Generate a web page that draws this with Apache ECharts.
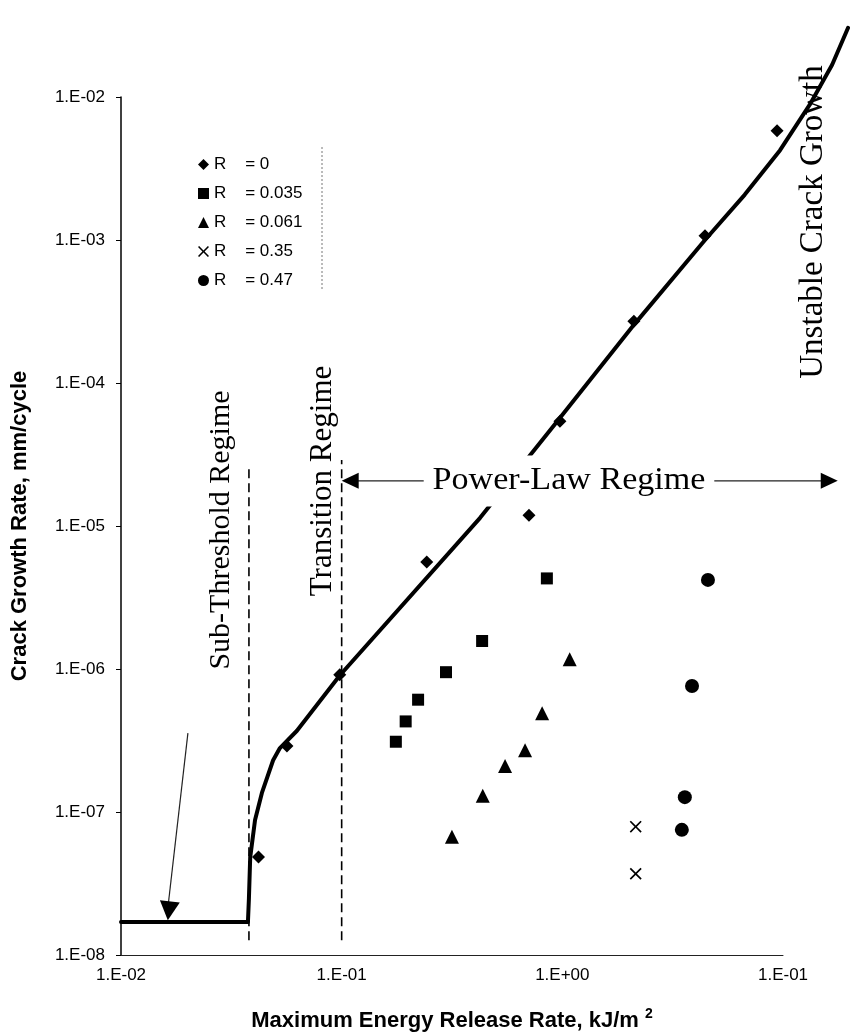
<!DOCTYPE html>
<html>
<head>
<meta charset="utf-8">
<script src="https://cdn.jsdelivr.net/npm/echarts@6/dist/echarts.min.js"></script>
<style>
  html, body { margin: 0; padding: 0; background: #fff; }
  #chart { width: 850px; height: 1036px; }
</style>
</head>
<body>
<div id="chart"></div>
<script>
// tick labels, as printed (the last one is a typo in the original figure)
const xTickLabels = ['1.E-02', '1.E-01', '1.E+00', '1.E-01'];
const yTickLabels = ['1.E-08', '1.E-07', '1.E-06', '1.E-05', '1.E-04', '1.E-03', '1.E-02'];

// fitted curve (threshold, transition, power-law, unstable growth)
const fitX = [0.01, 0.0376, 0.038, 0.0385, 0.0405, 0.0435, 0.0489, 0.0525, 0.0627, 0.098, 0.424, 0.935, 2.11, 4.43, 6.7, 9.7, 13.2, 16.7, 19.7];
const fitY = [1.7e-8, 1.7e-8, 2.5e-8, 4.8e-8, 8.8e-8, 1.36e-7, 2.3e-7, 2.8e-7, 3.7e-7, 9.0e-7, 1.14e-5, 5.25e-5, 2.55e-4, 1.0e-3, 2.07e-3, 4.25e-3, 8.8e-3, 1.68e-2, 3.04e-2];

// measured points, one pair of arrays per R ratio
const rValues = ['0', '0.035', '0.061', '0.35', '0.47'];
const r0X = [0.042, 0.0565, 0.098, 0.243, 0.706, 0.975, 2.11, 4.43, 9.4];
const r0Y = [4.84e-8, 2.9e-7, 9.1e-7, 5.6e-6, 1.19e-5, 5.4e-5, 2.7e-4, 1.07e-3, 5.8e-3];
const r035X = [0.176, 0.195, 0.222, 0.297, 0.433, 0.851];
const r035Y = [3.1e-7, 4.3e-7, 6.1e-7, 9.5e-7, 1.57e-6, 4.3e-6];
const r061X = [0.316, 0.436, 0.55, 0.678, 0.81, 1.08];
const r061Y = [6.7e-8, 1.3e-7, 2.1e-7, 2.7e-7, 4.9e-7, 1.17e-6];
const r35X = [2.15, 2.15];
const r35Y = [7.9e-8, 3.7e-8];
const r47X = [4.57, 3.87, 3.59, 3.48];
const r47Y = [4.2e-6, 7.6e-7, 1.27e-7, 7.5e-8];

const zip = (xs, ys) => xs.map((x, i) => [x, ys[i]]);
const crossPath = 'path://M0,1L1,0L5,4L9,0L10,1L6,5L10,9L9,10L5,6L1,10L0,9L4,5Z';

// plot box; the curve runs past it, so it gets a second grid with the same scale
const W = 850, H = 1036;
const plot = { left: 121, right: 67, top: 97, bottom: 81 };
const xDec = (W - plot.left - plot.right) / 3;
const yDec = (H - plot.top - plot.bottom) / 6;
const xMaxWide = Math.pow(10, (W - plot.left) / xDec - 2);
const yMaxWide = Math.pow(10, (H - plot.bottom) / yDec - 8);

const chart = echarts.init(document.getElementById('chart'));

const pointSeries = [
  { x: r0X, y: r0Y, symbol: 'diamond', size: 13 },
  { x: r035X, y: r035Y, symbol: 'rect', size: 12 },
  { x: r061X, y: r061Y, symbol: 'triangle', size: 14 },
  { x: r35X, y: r35Y, symbol: crossPath, size: 12 },
  { x: r47X, y: r47Y, symbol: 'circle', size: 14 }
].map((s, i) => ({
  name: 'R    = ' + rValues[i],
  type: 'scatter',
  data: zip(s.x, s.y),
  symbol: s.symbol,
  symbolSize: s.size,
  itemStyle: { color: '#000', opacity: 1 },
  z: 6
}));

const sansFont = '"Liberation Sans", Arial, sans-serif';
const serifFont = '"Liberation Serif", "Times New Roman", serif';

chart.setOption({
  backgroundColor: '#fff',
  animation: false,
  grid: [
    Object.assign({ outerBoundsMode: 'none', containLabel: false }, plot),
    { left: plot.left, right: 0, top: 0, bottom: plot.bottom, outerBoundsMode: 'none', containLabel: false }
  ],
  legend: {
    orient: 'vertical',
    left: 193,
    top: 151,
    itemWidth: 11,
    itemHeight: 11,
    itemGap: 12,
    textStyle: { fontFamily: sansFont, fontSize: 17, color: '#000' },
    data: pointSeries.map(s => s.name)
  },
  xAxis: [{
    type: 'log',
    logBase: 10,
    min: 0.01,
    max: 10,
    gridIndex: 0,
    name: 'Maximum Energy Release Rate, kJ/m {sup|2}',
    nameLocation: 'middle',
    nameGap: 52,
    nameTextStyle: {
      fontFamily: sansFont, fontSize: 22, fontWeight: 'bold', color: '#000',
      rich: { sup: { fontFamily: sansFont, fontSize: 14, fontWeight: 'bold', color: '#000', verticalAlign: 'top', padding: [0, 0, 14, 0] } }
    },
    axisLine: { lineStyle: { color: '#222', width: 1 } },
    axisTick: { show: false },
    splitLine: { show: false },
    minorTick: { show: false },
    axisLabel: {
      fontFamily: sansFont, fontSize: 17, color: '#000', margin: 12,
      formatter: v => xTickLabels[Math.round(Math.log10(v)) + 2]
    }
  }, {
    type: 'log', logBase: 10, min: 0.01, max: xMaxWide, gridIndex: 1, show: false
  }],
  yAxis: [{
    type: 'log',
    logBase: 10,
    min: 1e-8,
    max: 1e-2,
    gridIndex: 0,
    name: 'Crack Growth Rate, mm/cycle',
    nameLocation: 'middle',
    nameGap: 90,
    nameTextStyle: { fontFamily: sansFont, fontSize: 22, fontWeight: 'bold', color: '#000' },
    axisLine: { lineStyle: { color: '#000', width: 1.5 } },
    axisTick: { show: true, length: 5, lineStyle: { color: '#000' } },
    splitLine: { show: false },
    axisLabel: {
      fontFamily: sansFont, fontSize: 17, color: '#000', margin: 16,
      formatter: v => yTickLabels[Math.round(Math.log10(v)) + 8]
    }
  }, {
    type: 'log', logBase: 10, min: 1e-8, max: yMaxWide, gridIndex: 1, show: false
  }],
  series: [
    {
      name: 'fit',
      type: 'line',
      xAxisIndex: 1,
      yAxisIndex: 1,
      data: zip(fitX, fitY),
      symbol: 'none',
      clip: false,
      lineStyle: { color: '#000', width: 4, join: 'round', cap: 'round' },
      z: 2
    }
  ].concat(pointSeries)
});

// annotations, anchored in data coordinates
const regimeLines = [
  { x: 0.038, y0: 1.27e-8, y1: 2.5e-5 },
  { x: 0.1, y0: 1.27e-8, y1: 2.9e-5 }
];
const powerLawArrow = { x0: 0.1, x1: 17.7, y: 2.07e-5 };
const pointerArrow = { x0: 0.0201, y0: 3.56e-7, x1: 0.0163, y1: 1.75e-8 };

const px = (x, y) => chart.convertToPixel({ gridIndex: 1 }, [x, y]);

function arrowHead(tip, from, len, half) {
  const dx = tip[0] - from[0], dy = tip[1] - from[1];
  const d = Math.sqrt(dx * dx + dy * dy);
  const ux = dx / d, uy = dy / d;
  const bx = tip[0] - ux * len, by = tip[1] - uy * len;
  return [tip, [bx - uy * half, by + ux * half], [bx + uy * half, by - ux * half]];
}

const graphics = [];
regimeLines.forEach(l => {
  const a = px(l.x, l.y0), b = px(l.x, l.y1);
  graphics.push({
    type: 'line', z: 1, silent: true,
    shape: { x1: a[0], y1: a[1], x2: b[0], y2: b[1] },
    style: { stroke: '#000', lineWidth: 1.6, lineDash: [9, 5] }
  });
});

const pa = px(powerLawArrow.x0, powerLawArrow.y);
const pb = px(powerLawArrow.x1, powerLawArrow.y);
graphics.push({
  type: 'line', z: 4, silent: true,
  shape: { x1: pa[0] + 10, y1: pa[1], x2: pb[0] - 10, y2: pb[1] },
  style: { stroke: '#222', lineWidth: 1.2 }
});
graphics.push({ type: 'polygon', z: 4, silent: true, shape: { points: arrowHead(pa, pb, 17, 8) }, style: { fill: '#000' } });
graphics.push({ type: 'polygon', z: 4, silent: true, shape: { points: arrowHead(pb, pa, 17, 8) }, style: { fill: '#000' } });

const qa = px(pointerArrow.x0, pointerArrow.y0);
const qb = px(pointerArrow.x1, pointerArrow.y1);
graphics.push({
  type: 'line', z: 4, silent: true,
  shape: { x1: qa[0], y1: qa[1], x2: qb[0], y2: qb[1] - 12 },
  style: { stroke: '#222', lineWidth: 1.2 }
});
graphics.push({ type: 'polygon', z: 4, silent: true, shape: { points: arrowHead(qb, qa, 19, 10) }, style: { fill: '#000' } });

function label(text, x, y, rot, size, bg) {
  const style = {
    text: text, font: size + 'px ' + serifFont, fill: '#000',
    align: 'center', verticalAlign: 'middle', textAlign: 'center', textVerticalAlign: 'middle'
  };
  const el = { type: 'text', x: x, y: y, rotation: rot, z: 5, silent: true, style: style };
  if (bg) {
    style.backgroundColor = '#fff';
    style.padding = [10, 8];
    el.scaleX = 1.1;
  }
  return el;
}
graphics.push(label('Sub-Threshold Regime', 221, 530, Math.PI / 2, 30));
graphics.push(label('Transition Regime', 323, 481, Math.PI / 2, 31));
graphics.push(label('Unstable Crack Growth', 813, 222, Math.PI / 2, 33));
graphics.push(label('Power-Law Regime', 569, 481, 0, 31, true));

// right border of the legend box
graphics.push({
  type: 'line', z: 1, silent: true,
  shape: { x1: 322, y1: 147, x2: 322, y2: 290 },
  style: { stroke: '#777', lineWidth: 1, lineDash: [2, 2] }
});

chart.setOption({ graphic: graphics });
</script>
</body>
</html>
